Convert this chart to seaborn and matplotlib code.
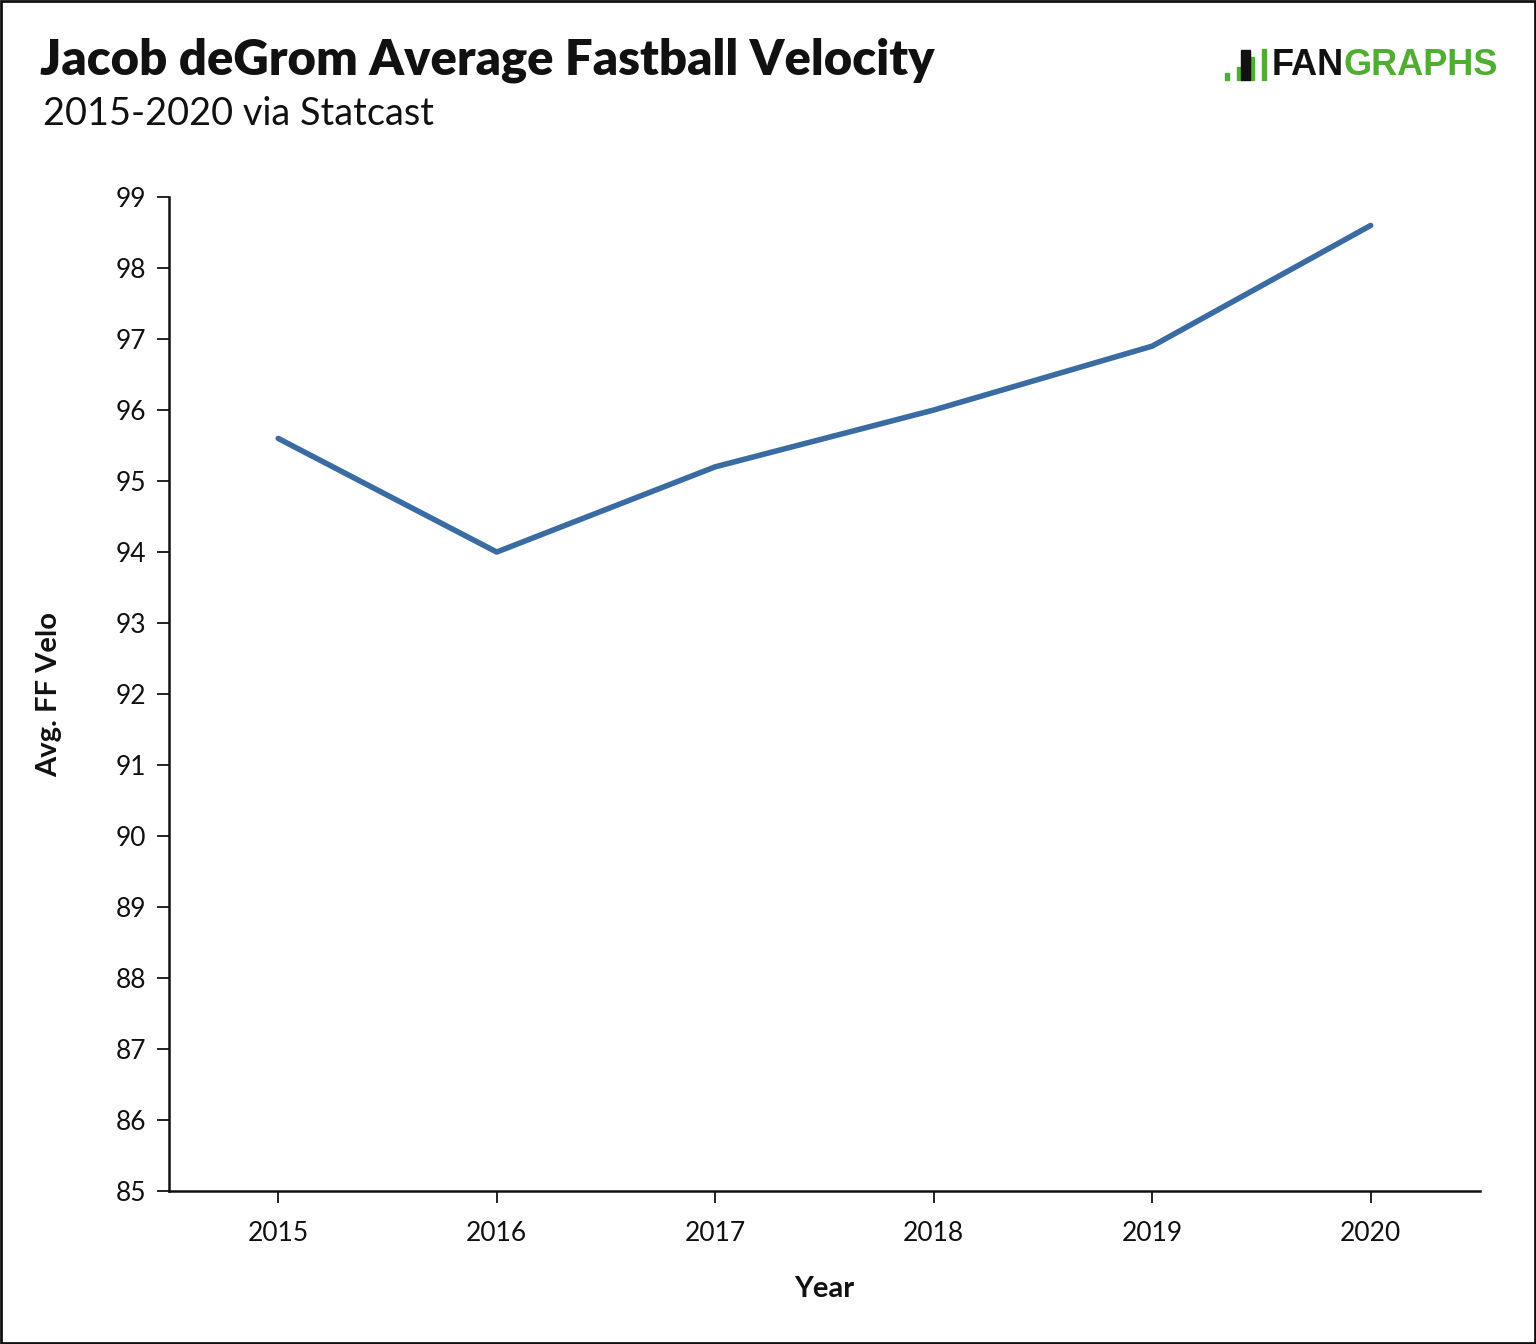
import matplotlib
matplotlib.use("Agg")
import matplotlib.pyplot as plt
import matplotlib.patches as mpatches
import seaborn as sns
import pandas as pd

# 데이터
years = [2015, 2016, 2017, 2018, 2019, 2020]
velo = [95.6, 94.0, 95.2, 96.0, 96.9, 98.6]
y_ticks = list(range(85, 100))

title = "Jacob deGrom Average Fastball Velocity"
subtitle = "2015-2020 via Statcast"

df = pd.DataFrame({"Year": years, "Avg. FF Velo": velo})

sns.set_theme(style="white")
plt.rcParams['font.family'] = ['Lato', 'DejaVu Sans']

fig = plt.figure(figsize=(15.36, 13.44), dpi=100)
ax = fig.add_axes([0.110, 0.1138, 0.8535, 0.7396])

sns.lineplot(data=df, x="Year", y="Avg. FF Velo", ax=ax, color="#3a6ca3", linewidth=4.0)

ax.set_xlim(2014.5, 2020.5)
ax.set_ylim(85, 99)
ax.set_xticks(years)
ax.set_yticks(y_ticks)
ax.tick_params(axis="both", direction="out", length=8.5, width=1.4, color="#222222",
               labelsize=19, labelcolor="#111111", left=True, bottom=True)
ax.tick_params(axis="x", pad=13)
ax.tick_params(axis="y", pad=8)

for side in ["top", "right"]:
    ax.spines[side].set_visible(False)
for side in ["left", "bottom"]:
    ax.spines[side].set_color("#111111")
    ax.spines[side].set_linewidth(1.8)

ax.set_xlabel("Year", fontsize=21, fontweight="bold", labelpad=22, color="#111111")
ax.set_ylabel("Avg. FF Velo", fontsize=21, fontweight="bold", labelpad=38, color="#111111")

# 타이틀
fig.text(0.026, 0.955, title, fontsize=35.3, fontweight="heavy", ha="left", va="center", color="#111111")
fig.text(0.028, 0.915, subtitle, fontsize=27.3, ha="left", va="center", color="#111111")

# 로고
logo_font = ['Liberation Sans', 'DejaVu Sans']
fig.text(0.828, 0.951, "FAN", fontsize=26, fontweight="bold", family=logo_font,
         ha="left", va="center", color="#111111")
fig.text(0.8745, 0.951, "GRAPHS", fontsize=26, fontweight="bold", family=logo_font,
         ha="left", va="center", color="#4fae32")
green = "#4fae32"
for x0, h in [(0.7975, 0.005), (0.8055, 0.010), (0.8135, 0.017), (0.8215, 0.023)]:
    fig.patches.append(mpatches.Rectangle((x0, 0.9405), 0.0028, h, transform=fig.transFigure,
                                          color=green, zorder=3))
fig.patches.append(mpatches.Rectangle((0.808, 0.9405), 0.006, 0.022, transform=fig.transFigure,
                                      color="#111111", zorder=4))

# 테두리
fig.patches.append(mpatches.Rectangle((0.0008, 0.0008), 0.9984, 0.9984, transform=fig.transFigure,
                                      fill=False, edgecolor="#111111", linewidth=2))

plt.savefig("out.png", dpi=100, facecolor="white")
